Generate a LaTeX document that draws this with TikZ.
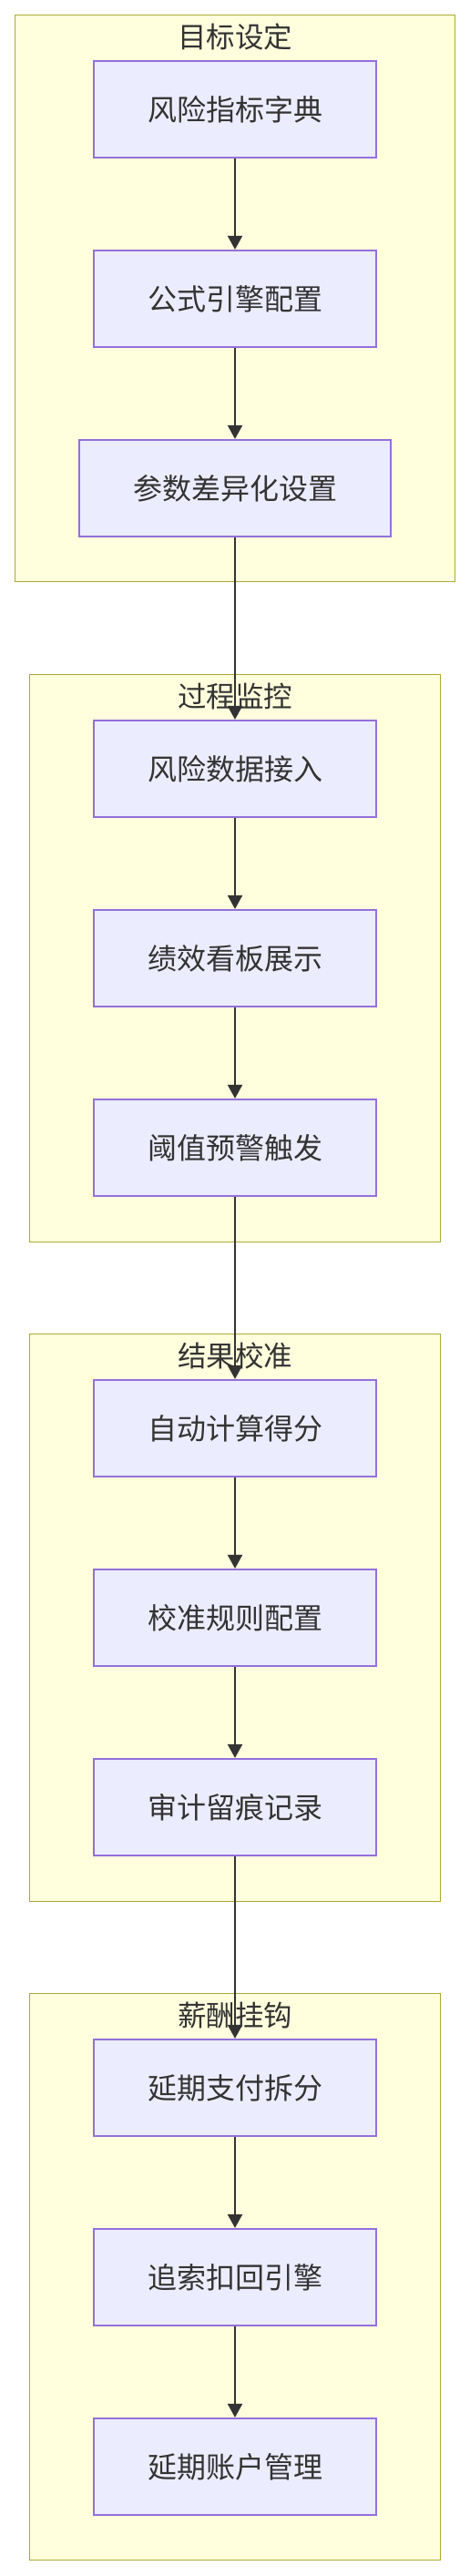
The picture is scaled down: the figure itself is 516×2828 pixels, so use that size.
\documentclass[tikz,border=0pt]{standalone}
\usepackage{fontspec}
\newfontfamily\cjk{Noto Sans CJK SC}
\usetikzlibrary{arrows.meta}
\definecolor{clfill}{HTML}{FFFFDE}
\definecolor{clline}{HTML}{AAAA33}
\definecolor{ndfill}{HTML}{ECECFF}
\definecolor{ndline}{HTML}{9370DB}
\definecolor{txt}{HTML}{333333}
\begin{document}
\begin{tikzpicture}[x=1pt,y=-1pt,
 cluster/.style={draw=clline,fill=clfill,line width=1.7pt},
 cltitle/.style={font=\cjk\fontsize{31.5}{37}\selectfont,text=txt,inner sep=0pt},
 stepbox/.style={draw=ndline,fill=ndfill,line width=1.7pt,minimum width=310pt,minimum height=106.5pt,font=\cjk\fontsize{32}{38}\selectfont,text=txt,inner sep=0pt},
 flow/.style={draw=txt,line width=2pt,-{Triangle[width=16pt,length=15pt]}}]
\useasboundingbox (0,0) rectangle (516,2828);
% clusters
\draw[cluster] (16.5,16.5) rectangle (499.5,638.5);
\draw[cluster] (32.5,740.5) rectangle (483.5,1363.5);
\draw[cluster] (32.5,1464.5) rectangle (483.5,2087.5);
\draw[cluster] (32.5,2188.5) rectangle (483.5,2810.5);
\node[cltitle] (t1) at (258,40.5) {目标设定};
\node[cltitle] (t2) at (258,764.5) {过程监控};
\node[cltitle] (t3) at (258,1488.5) {结果校准};
\node[cltitle] (t4) at (258,2212.5) {薪酬挂钩};
% nodes
\node[stepbox] (a1) at (258,120) {风险指标字典};
\node[stepbox] (a2) at (258,328) {公式引擎配置};
\node[stepbox,minimum width=342pt] (a3) at (258,536) {参数差异化设置};
\node[stepbox] (b1) at (258,844) {风险数据接入};
\node[stepbox] (b2) at (258,1052) {绩效看板展示};
\node[stepbox] (b3) at (258,1260) {阈值预警触发};
\node[stepbox] (c1) at (258,1568) {自动计算得分};
\node[stepbox] (c2) at (258,1776) {校准规则配置};
\node[stepbox] (c3) at (258,1984) {审计留痕记录};
\node[stepbox] (d1) at (258,2292) {延期支付拆分};
\node[stepbox] (d2) at (258,2500) {追索扣回引擎};
\node[stepbox] (d3) at (258,2708) {延期账户管理};
% connectors
\draw[flow] (a1) -- (a2);
\draw[flow] (a2) -- (a3);
\draw[flow] (a3) -- (b1);
\draw[flow] (b1) -- (b2);
\draw[flow] (b2) -- (b3);
\draw[flow] (b3) -- (c1);
\draw[flow] (c1) -- (c2);
\draw[flow] (c2) -- (c3);
\draw[flow] (c3) -- (d1);
\draw[flow] (d1) -- (d2);
\draw[flow] (d2) -- (d3);
\end{tikzpicture}
\end{document}
